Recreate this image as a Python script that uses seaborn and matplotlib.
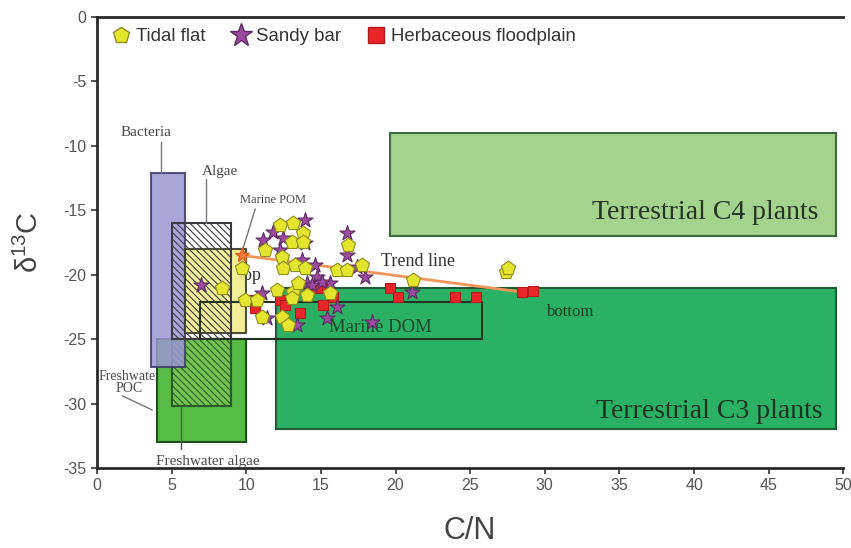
import matplotlib
matplotlib.use("Agg")
import matplotlib.pyplot as plt
from matplotlib.patches import Rectangle
from matplotlib.lines import Line2D
import pandas as pd
import seaborn as sns

# ---- sample data: C/N ratio and d13C (per mil) ----
tidal_cn = [12.27, 13.14, 13.81, 13.07, 11.26, 12.40, 12.47, 13.27, 13.94, 16.09,
            16.76, 16.82, 17.76, 9.72, 12.06, 13.14, 13.07, 14.08, 15.62, 9.92,
            10.72, 11.06, 12.40, 12.80, 21.18, 8.38, 27.41, 27.55, 13.47, 13.81]
tidal_d13c = [-16.12, -15.97, -16.74, -17.44, -18.06, -18.60, -19.46, -19.22, -19.46, -19.61,
              -19.61, -17.67, -19.22, -19.46, -21.16, -21.32, -21.78, -21.55, -21.40, -21.94,
              -21.94, -23.26, -23.26, -23.88, -20.39, -21.01, -19.77, -19.46, -20.62, -17.44]

sandy_cn = [13.94, 11.80, 12.47, 11.13, 13.94, 12.27, 16.76, 16.76, 13.74, 14.61,
            14.75, 17.96, 17.43, 11.06, 11.39, 13.40, 15.42, 16.09, 14.08, 15.62,
            21.11, 18.43, 6.97, 14.41, 15.08]
sandy_d13c = [-15.74, -16.67, -17.13, -17.29, -17.52, -18.06, -16.74, -18.45, -18.84, -19.22,
              -20.16, -20.16, -19.38, -21.40, -23.33, -23.88, -23.33, -22.48, -20.62, -20.62,
              -21.32, -23.64, -20.78, -20.78, -20.54]

flood_cn = [10.39, 10.59, 12.27, 12.60, 13.61, 15.15, 14.28, 14.75, 15.42, 15.82,
            19.64, 20.17, 23.99, 25.40, 28.49, 29.22]
flood_d13c = [-21.94, -22.56, -21.94, -22.33, -22.95, -22.33, -20.93, -21.01, -20.93, -21.71,
              -21.01, -21.71, -21.71, -21.71, -21.32, -21.24]

# trend line end points (top -> bottom)
trend_cn = [9.7, 29.5]
trend_d13c = [-18.5, -21.5]

# ---- organic matter source fields ----
region_names = ["Terrestrial C4 plants", "Terrestrial C3 plants", "Freshwater POC",
                "Freshwater algae", "Bacteria", "Marine POM", "Algae", "Marine DOM"]
region_cn_lo = [19.6, 12.0, 4.0, 5.0, 3.6, 5.9, 5.0, 6.9]
region_cn_hi = [49.5, 49.5, 10.0, 9.0, 5.9, 10.0, 9.0, 25.8]
region_d13c_lo = [-17.0, -32.0, -33.0, -30.2, -27.2, -24.5, -25.0, -25.0]
region_d13c_hi = [-9.0, -21.0, -25.0, -25.0, -12.1, -18.0, -16.0, -22.1]

HATCH = "\\" * 5
region_style = {
    "Terrestrial C4 plants": dict(fc="#a3d38c", ec="#3d6b3d", hatch=None, alpha=1.0, z=1),
    "Terrestrial C3 plants": dict(fc="#2bb163", ec="#1f5a35", hatch=None, alpha=1.0, z=1),
    "Freshwater POC": dict(fc="#57bb45", ec="#204d20", hatch=None, alpha=1.0, z=1),
    "Freshwater algae": dict(fc="#74c550", ec="#2a5a2a", hatch=HATCH, alpha=1.0, z=2),
    "Bacteria": dict(fc="#9b97d3", ec="#3b3a6b", hatch=None, alpha=0.85, z=3),
    "Marine POM": dict(fc="#f2ee8e", ec="#3a3a2a", hatch=None, alpha=0.9, z=4),
    "Algae": dict(fc="none", ec="#3a3a40", hatch=HATCH, alpha=1.0, z=5),
    "Marine DOM": dict(fc="none", ec="#223322", hatch=None, alpha=1.0, z=6),
}

sns.set_theme(style="ticks")
plt.rcParams["font.family"] = ["Liberation Sans", "DejaVu Sans"]
plt.rcParams["axes.unicode_minus"] = False
plt.rcParams["mathtext.default"] = "regular"
plt.rcParams["hatch.linewidth"] = 0.8

fig = plt.figure(figsize=(8.51, 5.48), dpi=100)
ax = fig.add_axes([0.114, 0.146, 0.877, 0.823])

for name, x0, x1, y0, y1 in zip(region_names, region_cn_lo, region_cn_hi,
                                 region_d13c_lo, region_d13c_hi):
    st = region_style[name]
    ax.add_patch(Rectangle((x0, y0), x1 - x0, y1 - y0, facecolor=st["fc"],
                           edgecolor=st["ec"], hatch=st["hatch"], lw=1.5,
                           alpha=st["alpha"], zorder=st["z"]))

serif = ["Liberation Serif", "DejaVu Serif"]
lab = "#4a4a4a"
# field labels
ax.text(48.3, -15.2, "Terrestrial C4 plants", ha="right", va="center",
        fontsize=20, family=serif, color="#243524", zorder=7)
ax.text(48.6, -30.6, "Terrestrial C3 plants", ha="right", va="center",
        fontsize=20, family=serif, color="#1c3322", zorder=7)
ax.text(19.0, -24.1, "Marine DOM", ha="center", va="center",
        fontsize=13.5, family=serif, color="#1b4a2c", zorder=7)
ax.text(3.3, -9.0, "Bacteria", ha="center", va="center",
        fontsize=11, family=serif, color=lab, zorder=7)
ax.plot([4.3, 4.3], [-9.7, -12.1], color="#777777", lw=1, zorder=7)
ax.text(8.25, -12.0, "Algae", ha="center", va="center",
        fontsize=11, family=serif, color=lab, zorder=7)
ax.plot([7.3, 7.3], [-12.6, -16.0], color="#777777", lw=1, zorder=7)
ax.text(11.8, -14.2, "Marine POM", ha="center", va="center",
        fontsize=9, family=serif, color=lab, zorder=7)
ax.plot([10.6, 9.8], [-14.9, -17.9], color="#777777", lw=1, zorder=7)
ax.text(2.15, -28.4, "Freshwater\nPOC", ha="center", va="center", linespacing=0.9,
        fontsize=10, family=serif, color=lab, zorder=0.5)
ax.plot([1.7, 3.7], [-29.4, -30.5], color="#777777", lw=1, zorder=7)
ax.text(7.4, -34.5, "Freshwater algae", ha="center", va="center",
        fontsize=11, family=serif, color=lab, zorder=7)
ax.plot([5.6, 5.6], [-30.2, -33.5], color="#555555", lw=1, zorder=7)

# trend line
ax.plot(trend_cn, trend_d13c, color="#f2955a", lw=2, zorder=8)
ax.plot(trend_cn[:1], trend_d13c[:1], marker="*", ms=11, color="#f07a3a",
        mec="#e06020", zorder=8, ls="none")
ax.text(21.5, -19.0, "Trend line", ha="center", va="center",
        fontsize=13, family=serif, color="#333333", zorder=7)
ax.text(10.3, -20.1, "top", ha="center", va="center",
        fontsize=13, family=serif, color="#333333", zorder=3.5)
ax.text(31.7, -22.9, "bottom", ha="center", va="center",
        fontsize=12, family=serif, color="#1a3a22", zorder=7)

# samples
df = pd.concat([
    pd.DataFrame({"cn": flood_cn, "d13c": flood_d13c, "env": "Herbaceous floodplain"}),
    pd.DataFrame({"cn": sandy_cn, "d13c": sandy_d13c, "env": "Sandy bar"}),
    pd.DataFrame({"cn": tidal_cn, "d13c": tidal_d13c, "env": "Tidal flat"}),
], ignore_index=True)

env_style = {
    "Herbaceous floodplain": dict(marker="s", c="#e8262a", ec="#b31a1c", s=55),
    "Sandy bar": dict(marker="*", c="#9c4a9e", ec="#5e2b62", s=130),
    "Tidal flat": dict(marker="p", c="#e4e52e", ec="#8e8e1c", s=115),
}
for env in ["Herbaceous floodplain", "Sandy bar", "Tidal flat"]:
    st = env_style[env]
    sub = df[df["env"] == env]
    sns.scatterplot(data=sub, x="cn", y="d13c", marker=st["marker"], color=st["c"],
                    edgecolor=st["ec"], linewidth=0.8, s=st["s"], ax=ax,
                    zorder=9, legend=False)

handles = [
    Line2D([], [], ls="none", marker="p", ms=12, mfc="#e4e52e", mec="#8e8e1c", label="Tidal flat"),
    Line2D([], [], ls="none", marker="*", ms=17, mfc="#9c4a9e", mec="#5e2b62", label="Sandy bar"),
    Line2D([], [], ls="none", marker="s", ms=11, mfc="#e8262a", mec="#b31a1c", label="Herbaceous floodplain"),
]
ax.legend(handles=handles, loc="upper left", ncol=3, frameon=False, fontsize=13.4,
          handletextpad=0.1, columnspacing=1.2, borderaxespad=0.2, handlelength=1.4,
          bbox_to_anchor=(0.0, 1.0), labelcolor="#333333")

ax.set_xlim(0, 50)
ax.set_ylim(-35, 0)
ax.set_xticks(range(0, 51, 5))
ax.set_yticks(range(-35, 1, 5))
ax.set_xlabel("C/N", fontsize=22, color="#444444", labelpad=16)
ax.set_ylabel("δ$^{13}$C", fontsize=21, color="#444444", labelpad=14)
ax.tick_params(axis="both", direction="out", length=4, width=1.2, color="#333333",
               labelsize=11.5, labelcolor="#555555")
for side in ["left", "bottom", "top"]:
    ax.spines[side].set_linewidth(2)
    ax.spines[side].set_color("#2a2a2a")
ax.spines["right"].set_visible(False)

fig.savefig("out.png", dpi=100)
